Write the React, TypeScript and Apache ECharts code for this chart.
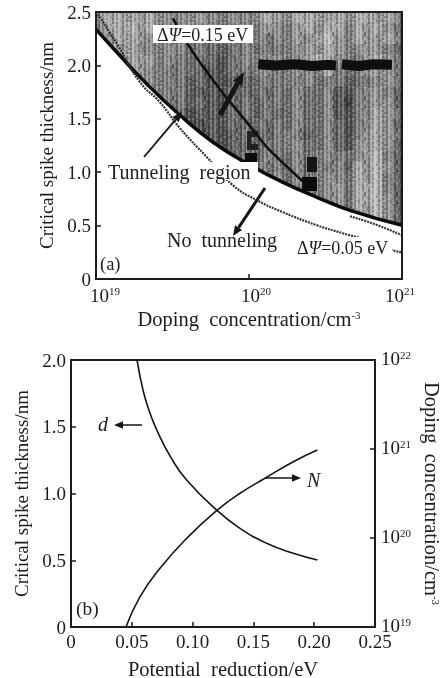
import React, { useEffect, useRef } from "react";
import * as echarts from "echarts";

const SERIF = "Liberation Serif";
const INK = "#1c1c1c";

// Panel (a)
const thickCurve = [
  [1e19, 2.338], [1.37e19, 2.123], [2.03e19, 1.86], [3.54e19, 1.533], [5.82e19, 1.28],
  [1.02e20, 1.065], [1.67e20, 0.905], [2.78e20, 0.765], [4.57e20, 0.643], [1e21, 0.503],
];
const dottedCurve = [
  [1.03e19, 2.478], [1.39e19, 2.188], [1.94e19, 1.842], [2.62e19, 1.655], [3.54e19, 1.411],
  [5.31e19, 1.14], [7.85e19, 0.878], [1.13e20, 0.737], [1.67e20, 0.625], [2.78e20, 0.503],
  [4.11e20, 0.428], [5.9e20, 0.362], [8.7e20, 0.269], [1e21, 0.25],
];
const dottedTail = [[4.57e20, 0.587], [6.67e20, 0.512], [1e21, 0.409]];
const leaderCurve = [
  [3.18e19, 2.441], [4.3e19, 2.123], [6.76e19, 1.739], [9.7e19, 1.467], [1.31e20, 1.233], [2.32e20, 0.896],
];
const scanBand = [
  [1.15e20, 2.01], [1.5e20, 2.0], [2.0e20, 2.01], [2.6e20, 1.995], [3.2e20, 2.005],
  [3.7e20, 2.0], null, [4.05e20, 2.01], [5.2e20, 1.995], [6.5e20, 2.01], [8.6e20, 2.005],
];

// Panel (a) background scan: one hex digit of grey per cell, top row first
const scanRows = [
  "9aaa9a98899888889a99aaa9a9aa9a8",
  "8aab9a888988778889889a9aa8a9a97",
  "89aa988778767778878898ab98a99a8",
  "7a9a8888877666787778899a9889986",
  "89ba998877765678888889ba8879a97",
  "88a99887776556778878888a7779997",
  "889a98877665556677787877766 897",
  "8899988776555666767786785578986",
  "9899888776655667677786785478996",
  "8889887765555667676786785578a97",
  "8888887765455666767786786578a96",
  "8888877665455567667875786579a97",
  "8888777654355566677886786589a96",
  "8888777654345567687786887789b86",
  "88887776543455677777868786a9b96",
  "88887776543455677787868887a9b86",
  "88887776554556677787868897aab86",
  "88887776554556677787868897aab96",
  "88887776554556677787868897a9b96",
  "88887776554556677787868897a9b96",
  "88887776554556677787868897a9b96",
];
// Fine grain laid over the scan, -3 to +3 shown as 0 to 6
const grainRows = [
  "3152630415263041", "2163520516362150", "4053614206351242", "3162525305264130",
  "5041632416153023", "2152640305264151", "3063513416352042", "4152624306163130",
  "1043635215264052", "3261524306153241", "2052643415362130", "5143526304153062",
  "3062415236264150", "2153604325163041", "4062513416352152", "1153624305264031",
];

// Panel (b)
const thicknessCurve = [
  [0.0543, 2.0], [0.0592, 1.775], [0.0636, 1.638], [0.0705, 1.476], [0.0821, 1.27], [0.0951, 1.101],
  [0.1198, 0.876], [0.139, 0.739], [0.1609, 0.627], [0.1828, 0.552], [0.2026, 0.502],
];
const dopingCurve = [
  [0.0452, 1e19], [0.0567, 2.18e19], [0.0732, 4.57e19], [0.0951, 9.9e19], [0.1198, 2.03e20],
  [0.139, 3.18e20], [0.1595, 4.69e20], [0.1828, 7.2e20], [0.2026, 9.75e20],
];

const LOG_START = 19;
const LOG_SPAN = 2;
const TOP_VALUE = 2.5;
const ROW_STEP = 0.1;

function scanCells() {
  const cells: number[][] = [];
  scanRows.forEach((row, r) => {
    for (let c = 0; c < row.length; c++) {
      const grey = parseInt(row[c], 16);
      const level = isNaN(grey) ? 7 : grey;
      cells.push([
        Math.pow(10, LOG_START + (LOG_SPAN * c) / row.length),
        Math.pow(10, LOG_START + (LOG_SPAN * (c + 1)) / row.length),
        TOP_VALUE - r * ROW_STEP,
        TOP_VALUE - (r + 1) * ROW_STEP,
        level * 17,
      ]);
    }
  });
  return cells;
}

function grainCanvas() {
  const cell = 2;
  const canvas = document.createElement("canvas");
  canvas.width = grainRows[0].length * cell;
  canvas.height = grainRows.length * cell;
  const ctx = canvas.getContext("2d")!;
  grainRows.forEach((row, r) => {
    for (let c = 0; c < row.length; c++) {
      const d = parseInt(row[c], 10) - 3;
      ctx.fillStyle = d < 0 ? `rgba(0,0,0,${-d * 0.1})` : `rgba(255,255,255,${d * 0.09})`;
      ctx.fillRect(c * cell, r * cell, cell, cell);
    }
  });
  return canvas;
}

const supRich = {
  t: { fontFamily: SERIF, fontSize: 19, color: INK },
  s: { fontFamily: SERIF, fontSize: 11, color: INK, padding: [0, 0, 9, 0] },
  s21: { fontFamily: SERIF, fontSize: 11, color: INK, padding: [0, 4, 9, 0] },
  p19: { fontFamily: SERIF, fontSize: 19, color: INK, padding: [0, 0, 0, 18] },
  p20: { fontFamily: SERIF, fontSize: 19, color: INK, padding: [0, 0, 0, 14] },
};
const rightRich = {
  t: { fontFamily: SERIF, fontSize: 19, color: INK, lineHeight: 14, padding: [0, 0, 3, 0] },
  s: { fontFamily: SERIF, fontSize: 11, color: INK, lineHeight: 10, padding: [0, 0, 10, 0] },
};
const exponent = (v: number) => Math.round(Math.log10(v));
const axisTick = { show: true, inside: true, length: 5, lineStyle: { color: INK, width: 1.5 } };
const axisLine = { show: true, onZero: false, lineStyle: { color: INK, width: 2 } };
const frame = {
  show: true, borderColor: INK, borderWidth: 2, backgroundColor: "transparent", z: 10,
  outerBoundsMode: "none",
};
const tallName = { fontFamily: SERIF, fontSize: 19, color: INK };
const wideName = { fontFamily: SERIF, fontSize: 20.5, color: INK };
const nameRich = {
  s: { fontFamily: SERIF, fontSize: 11, color: INK, padding: [0, 0, 8, 0] },
};

const label = (x: number, y: number, text: string, fontSize = 18, extra = {}) => ({
  type: "text",
  x,
  y,
  z: 9,
  style: { text, fontFamily: SERIF, fontSize, fill: "#222", textVerticalAlign: "middle", ...extra },
});
const whiteBox = (x: number, y: number, width: number, height: number) => ({
  type: "rect",
  z: 8,
  shape: { x, y, width, height },
  style: { fill: "#fff" },
});
const blot = (x: number, y: number, width: number, height: number, fill = "#0c0c0c") => ({
  type: "rect",
  z: 2,
  shape: { x, y, width, height },
  style: { fill },
});
function arrow(x1: number, y1: number, x2: number, y2: number, width: number, head: number) {
  const a = Math.atan2(y2 - y1, x2 - x1);
  const bx = x2 - head * Math.cos(a);
  const by = y2 - head * Math.sin(a);
  const hw = head * 0.42;
  return [
    {
      type: "line",
      z: 7,
      shape: { x1, y1, x2: bx, y2: by },
      style: { stroke: "#151515", lineWidth: width },
    },
    {
      type: "polygon",
      z: 7,
      shape: {
        points: [
          [x2, y2],
          [bx + hw * Math.sin(a), by - hw * Math.cos(a)],
          [bx - hw * Math.sin(a), by + hw * Math.cos(a)],
        ],
      },
      style: { fill: "#151515" },
    },
  ];
}

export default function App() {
  const ref = useRef<HTMLDivElement>(null);
  useEffect(() => {
    const chart = echarts.init(ref.current!, undefined, { renderer: "svg" });
    const italic = { i: { fontFamily: SERIF, fontStyle: "italic", fontSize: 18, fill: "#222" } };
    chart.setOption({
      animation: false,
      backgroundColor: "#fff",
      grid: [
        { left: 96, top: 12, width: 306, height: 267, ...frame },
        { left: 71, top: 360, width: 304, height: 267, ...frame },
      ],
      xAxis: [
        {
          type: "log", logBase: 10, gridIndex: 0, min: 1e19, max: 1e21, z: 10,
          axisLine, axisTick, splitLine: { show: false }, minorTick: { show: false },
          axisLabel: {
            margin: 6, rich: supRich, hideOverlap: false, showMinLabel: true, showMaxLabel: true,
            formatter: (v: number) => {
              const e = exponent(v);
              return e === 21 ? `{t|10}{s21|21}` : `{p${e}|10}{s|${e}}`;
            },
          },
          name: "Doping  concentration/cm{s|-3}", nameLocation: "middle", nameGap: 29,
          nameTextStyle: { ...wideName, rich: nameRich },
        },
        {
          type: "value", gridIndex: 1, min: 0, max: 0.25, interval: 0.05, z: 10,
          axisLine, axisTick, splitLine: { show: false },
          axisLabel: {
            margin: 8, lineHeight: 13, fontFamily: SERIF, fontSize: 19, color: INK,
            formatter: (v: number) => (v === 0 ? "0" : v.toFixed(2)),
          },
          name: "Potential  reduction/eV", nameLocation: "middle", nameGap: 31, nameTextStyle: wideName,
        },
      ],
      yAxis: [
        {
          type: "value", gridIndex: 0, min: 0, max: 2.5, interval: 0.5, z: 10,
          axisLine, axisTick, splitLine: { show: false },
          axisLabel: {
            margin: 5, fontFamily: SERIF, fontSize: 19, color: INK,
            formatter: (v: number) => (v === 0 ? "0" : v.toFixed(1)),
          },
          name: "Critical spike thickness/nm", nameLocation: "middle", nameGap: 35, nameRotate: 90,
          nameTextStyle: tallName,
        },
        {
          type: "value", gridIndex: 1, min: 0, max: 2, interval: 0.5, z: 10,
          axisLine, axisTick, splitLine: { show: false },
          axisLabel: {
            margin: 5, fontFamily: SERIF, fontSize: 19, color: INK,
            formatter: (v: number) => (v === 0 ? "0" : v.toFixed(1)),
          },
          name: "Critical spike thickness/nm", nameLocation: "middle", nameGap: 39, nameRotate: 90,
          nameTextStyle: tallName,
        },
        {
          type: "log", logBase: 10, gridIndex: 1, min: 1e19, max: 1e22, position: "right", z: 10,
          axisLine, axisTick, splitLine: { show: false }, minorTick: { show: false },
          axisLabel: {
            margin: 6, rich: rightRich, showMinLabel: true, showMaxLabel: true,
            formatter: (v: number) => `{t|10}{s|${exponent(v)}}`,
          },
          name: "Doping  concentration/cm{s|-3}", nameLocation: "middle", nameGap: 45, nameRotate: -90,
          nameTextStyle: { ...wideName, rich: nameRich },
        },
      ],
      series: [
        {
          type: "custom",
          name: "Scan background",
          xAxisIndex: 0,
          yAxisIndex: 0,
          z: 1,
          silent: true,
          data: scanCells(),
          encode: { x: [0, 1], y: [2, 3] },
          clip: true,
          renderItem: (_: any, api: any) => {
            const a = api.coord([api.value(0), api.value(2)]);
            const b = api.coord([api.value(1), api.value(3)]);
            const g = api.value(4);
            return {
              type: "rect",
              shape: { x: a[0], y: a[1], width: b[0] - a[0] + 0.6, height: b[1] - a[1] + 0.6 },
              style: { fill: `rgb(${g},${g},${g})` },
            };
          },
        },
        {
          type: "line", name: "Scan band", xAxisIndex: 0, yAxisIndex: 0, z: 2, data: scanBand.map((p) => p || "-"),
          symbol: "none", lineStyle: { color: "#0f0f0f", width: 10 },
        },
        {
          type: "line", name: "0.15 eV", xAxisIndex: 0, yAxisIndex: 0, z: 2, data: leaderCurve,
          smooth: 0.2, symbol: "none", lineStyle: { color: "#111", width: 2.6 },
        },
        {
          type: "line", name: "Critical thickness", xAxisIndex: 0, yAxisIndex: 0, z: 3, data: thickCurve,
          smooth: 0.5, symbol: "none", lineStyle: { color: "#0a0a0a", width: 3.5 },
          areaStyle: { color: "#fff", opacity: 1, origin: "start" },
        },
        {
          type: "line", name: "0.05 eV", xAxisIndex: 0, yAxisIndex: 0, z: 4, data: dottedCurve,
          smooth: 0.5, symbol: "none", lineStyle: { color: "#333", width: 2.2, type: [2, 1] },
        },
        {
          type: "line", name: "0.05 eV tail", xAxisIndex: 0, yAxisIndex: 0, z: 4, data: dottedTail,
          smooth: 0.5, symbol: "none", lineStyle: { color: "#333", width: 2.2, type: [2, 1] },
        },
        {
          type: "line", name: "d", xAxisIndex: 1, yAxisIndex: 1, z: 4, data: thicknessCurve,
          smooth: 0.5, symbol: "none", lineStyle: { color: "#161616", width: 1.6 },
        },
        {
          type: "line", name: "N", xAxisIndex: 1, yAxisIndex: 2, z: 4, data: dopingCurve,
          smooth: 0.5, symbol: "none", lineStyle: { color: "#161616", width: 1.6 },
        },
      ],
      graphic: [
        {
          type: "rect", z: 2,
          shape: { x: 96, y: 12, width: 306, height: 267 },
          style: { fill: { image: grainCanvas(), repeat: "repeat" } },
        },
        blot(245, 153, 12, 9),
        blot(247, 131, 11, 6, "#222"),
        blot(247, 131, 4, 19, "#222"),
        blot(247, 144, 11, 6, "#222"),
        blot(307, 157, 10, 15, "#161616"),
        blot(302, 177, 15, 14),
        ...arrow(220, 115, 244, 72, 5, 13),
        ...arrow(144, 157, 182, 112, 1.8, 10),
        ...arrow(265, 188, 233, 236, 3, 10),
        whiteBox(153, 25, 100, 18),
        whiteBox(105, 162, 153, 18),
        whiteBox(297, 237, 95, 21),
        label(157, 34.5, "Δ{i|Ψ}=0.15 eV", 18, { rich: italic }),
        label(108, 172, "Tunneling  region", 20, {}),
        label(167, 240, "No  tunneling", 20),
        label(297, 248, "Δ{i|Ψ}=0.05 eV", 18, { rich: italic }),
        label(100, 264, "(a)", 18.5),
        label(76, 608, "(b)", 19.5),
        label(98, 424, "d", 20, { fontStyle: "italic" }),
        label(307, 480, "N", 20, { fontStyle: "italic" }),
        ...arrow(142, 425, 114, 425, 1.5, 9),
        ...arrow(265, 478, 301, 478, 1.5, 9),
      ],
    });
    return () => chart.dispose();
  }, []);
  return (
    <div
      ref={ref}
      style={{ position: "absolute", left: 0, top: 0, width: 446, height: 678, filter: "blur(0.35px)" }}
    />
  );
}
